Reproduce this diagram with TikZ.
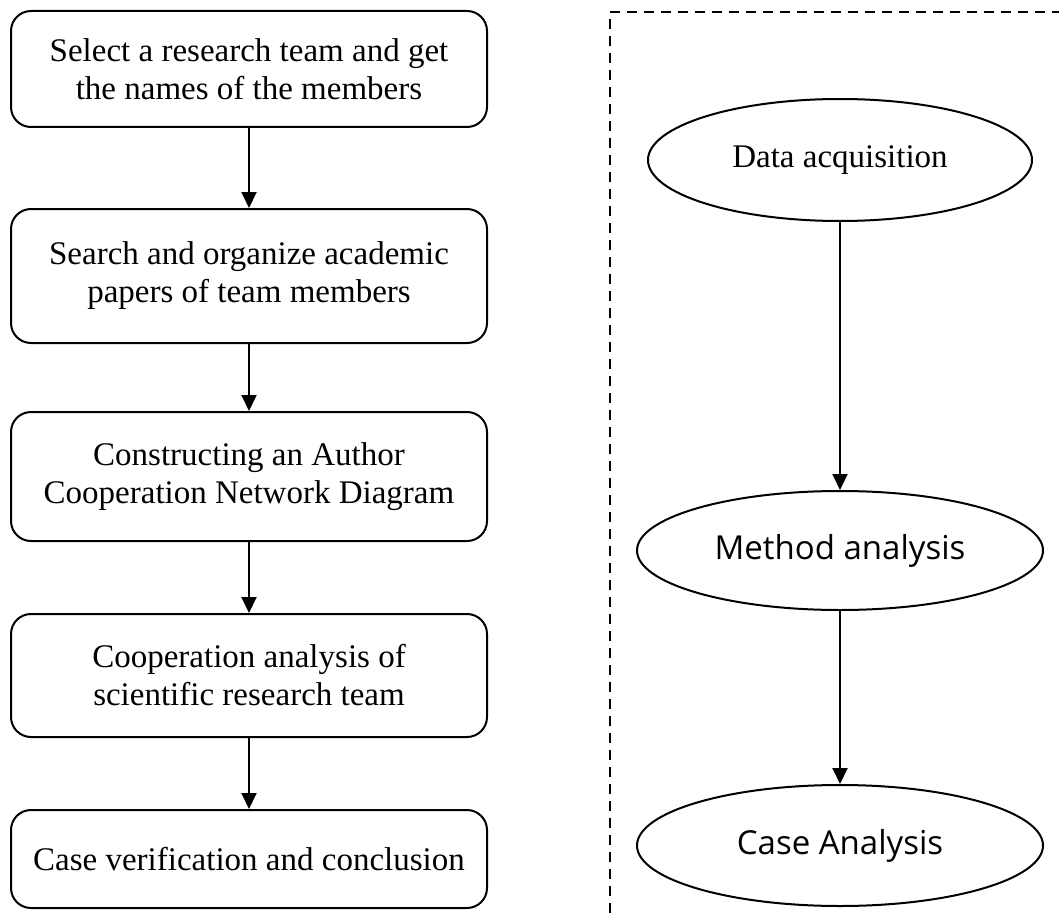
\documentclass[tikz,border=0pt]{standalone}
\usepackage{fontspec}
\setmainfont{Liberation Serif}
\newfontfamily\yahei{Open Sans}
\usetikzlibrary{positioning, arrows.meta, shapes.geometric}

\tikzset{
    stepbox/.style={draw, line width=2pt, rounded corners=20pt, minimum width=476pt,
        inner sep=0pt, align=center, font=\fontsize{33}{38}\selectfont},
    phase/.style={draw, ellipse, line width=2pt, inner sep=0pt, align=center,
        font=\fontsize{33}{38}\selectfont},
    flow/.style={-{Triangle[length=16pt,width=15pt]}, line width=2pt},
}

\begin{document}
\begin{tikzpicture}[x=1pt,y=-1pt]
    \useasboundingbox (0,0) rectangle (1059,920);

    % left: work steps
    \node[stepbox, minimum height=116pt] (sel) at (249,69) {Select a research team and get\\the names of the members};
    \node[stepbox, minimum height=134pt, below=80pt of sel] (search) {Search and organize academic\\papers of team members};
    \node[stepbox, minimum height=129pt, below=67pt of search] (net) {Constructing an Author\\Cooperation Network Diagram};
    \node[stepbox, minimum height=123pt, below=71pt of net] (coop) {Cooperation analysis of\\scientific research team};
    \node[stepbox, minimum height=98pt, below=71pt of coop] (verif) {Case verification and conclusion};

    \draw[flow] (sel) -- (search);
    \draw[flow] (search) -- (net);
    \draw[flow] (net) -- (coop);
    \draw[flow] (coop) -- (verif);

    % right: research phases
    \draw[line width=2pt, dash pattern=on 10pt off 7pt] (610,913) -- (610,12) -- (1070,12);

    \node[phase, minimum width=384pt, minimum height=122pt] (data) at (840,160) {Data acquisition};
    \node[phase, minimum width=406pt, minimum height=119pt, below=268pt of data, font=\yahei\fontsize{33}{38}\selectfont] (method) {Method analysis};
    \node[phase, minimum width=406pt, minimum height=121pt, below=173pt of method, font=\yahei\fontsize{33}{38}\selectfont] (case) {Case Analysis};

    \draw[flow] (data) -- (method);
    \draw[flow] (method) -- (case);
\end{tikzpicture}
\end{document}
